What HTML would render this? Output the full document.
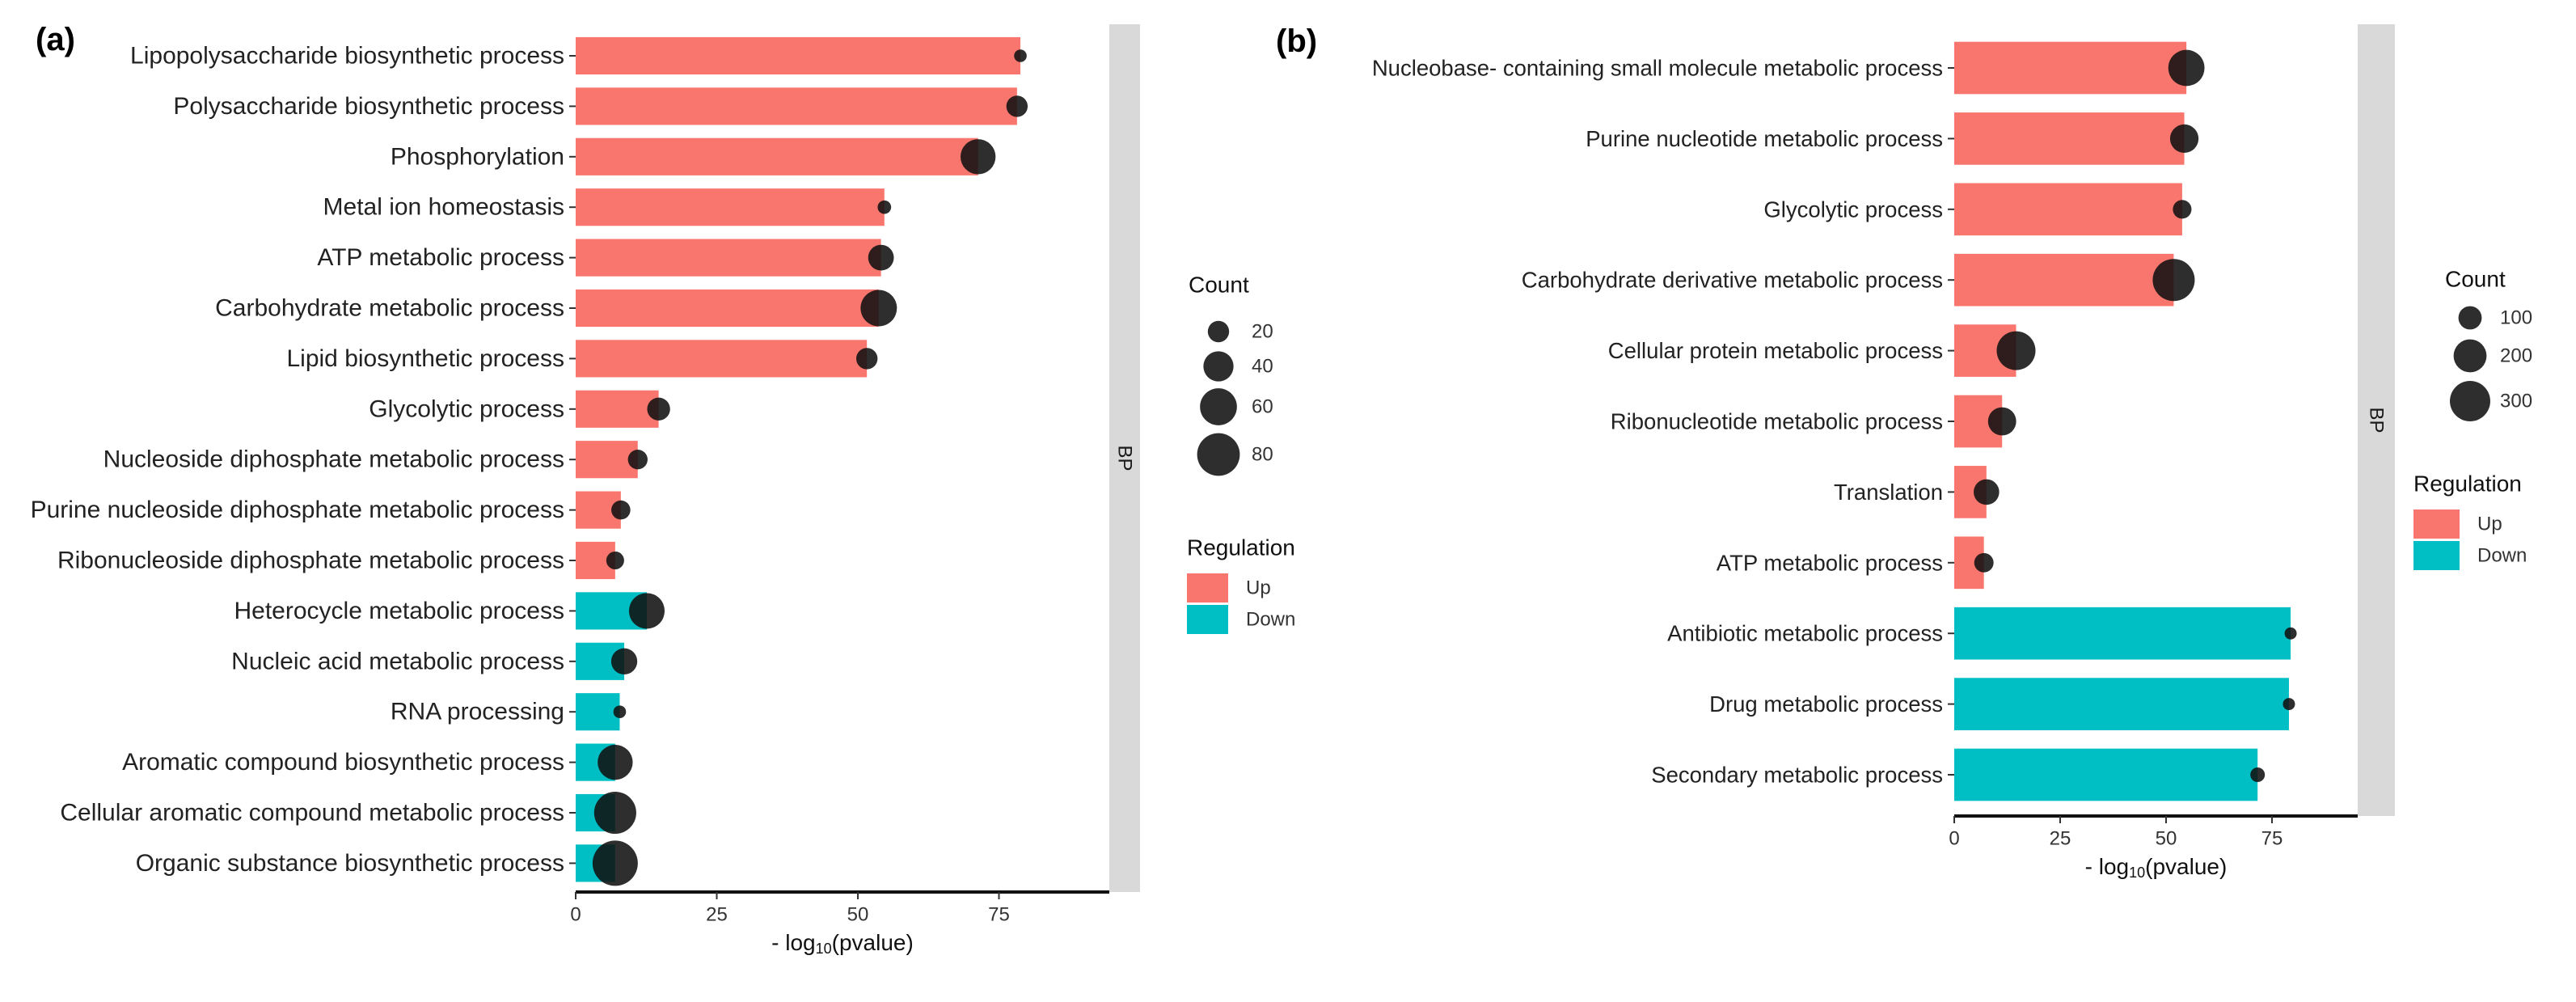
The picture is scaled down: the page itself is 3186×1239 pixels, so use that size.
<!DOCTYPE html>
<html><head><meta charset="utf-8"><title>GO enrichment BP</title>
<style>
html,body{margin:0;padding:0;background:#fff;}
svg{display:block;font-family:"Liberation Sans",Arial,sans-serif;}
</style></head>
<body>
<svg id="chart" width="3186" height="1239" viewBox="0 0 3186 1239" xmlns="http://www.w3.org/2000/svg">
<rect width="3186" height="1239" fill="#fff"/>
<text x="44" y="62" font-size="40" font-weight="bold">(a)</text>
<text x="1578" y="64" font-size="40" font-weight="bold">(b)</text>
<g id="pa"></g>
<g id="pb"></g>
</svg>
<script>
// Panel A data
const catsA = ["Lipopolysaccharide biosynthetic process","Polysaccharide biosynthetic process","Phosphorylation","Metal ion homeostasis","ATP metabolic process","Carbohydrate metabolic process","Lipid biosynthetic process","Glycolytic process","Nucleoside diphosphate metabolic process","Purine nucleoside diphosphate metabolic process","Ribonucleoside diphosphate metabolic process","Heterocycle metabolic process","Nucleic acid metabolic process","RNA processing","Aromatic compound biosynthetic process","Cellular aromatic compound metabolic process","Organic substance biosynthetic process"];
const valsA = [78.8,78.2,71.3,54.7,54.1,53.7,51.6,14.7,11,8,7,12.6,8.6,7.8,7,7,7];
const countsA = [7,20,54,8,29,58,20,23,17,16,14,56,30,7,54,78,90];
const regA = ["Up","Up","Up","Up","Up","Up","Up","Up","Up","Up","Up","Down","Down","Down","Down","Down","Down"];
const legendCountsA = [20,40,60,80];
// Panel B data
const catsB = ["Nucleobase- containing small molecule metabolic process","Purine nucleotide metabolic process","Glycolytic process","Carbohydrate derivative metabolic process","Cellular protein metabolic process","Ribonucleotide metabolic process","Translation","ATP metabolic process","Antibiotic metabolic process","Drug metabolic process","Secondary metabolic process"];
const valsB = [54.8,54.3,53.8,51.8,14.6,11.3,7.6,7,79.4,79,71.6];
const countsB = [241,149,64,325,277,146,120,69,27,27,39];
const regB = ["Up","Up","Up","Up","Up","Up","Up","Up","Down","Down","Down"];
const legendCountsB = [100,200,300];
const xTicks = [0,25,50,75];

const NS="http://www.w3.org/2000/svg";
const COL={Up:"#F8766D",Down:"#00BFC4"};
function mk(parent,tag,attrs,txt){const e=document.createElementNS(NS,tag);for(const k in attrs)e.setAttribute(k,attrs[k]);if(txt!==undefined)e.textContent=txt;parent.appendChild(e);return e;}

function panel(g,cfg){
  const {cats,vals,counts,reg,x0,unit,right,top0,step,axisY,stripX,stripW,stripTop,rfun,fs}=cfg;
  const sx=v=>x0+v*unit;
  const bh=step*0.74;
  const s=mk(g,"rect",{x:stripX,y:stripTop,width:stripW,height:axisY-stripTop,fill:"#D9D9D9"});
  
  
  const cy=(stripTop+axisY)/2, cx=stripX+stripW/2;
  const st=mk(g,"text",{x:cx,y:cy,"font-size":24,"text-anchor":"middle","dominant-baseline":"central",transform:`rotate(90 ${cx} ${cy})`,fill:"#1a1a1a"},"BP");
  
  
  cats.forEach((c,i)=>{
    const y=top0+i*step;
    const b=mk(g,"rect",{x:sx(0),y:y-bh/2,width:sx(vals[i])-sx(0),height:bh,fill:COL[reg[i]]});
    
    
    const p=mk(g,"circle",{cx:sx(vals[i]),cy:y,r:rfun(counts[i]),fill:"#111","fill-opacity":0.88});
    
    
    const t=mk(g,"text",{x:x0-14,y:y,"font-size":fs,"text-anchor":"end","dominant-baseline":"central",fill:"#222"},c);
    
    
    const tk=mk(g,"line",{x1:x0-8,x2:x0,y1:y,y2:y,stroke:"#333","stroke-width":2});
    
    
  });
  const ax=mk(g,"line",{x1:x0,x2:right,y1:axisY,y2:axisY,stroke:"#111","stroke-width":4});
  
  
  xTicks.forEach(v=>{
    const l=mk(g,"line",{x1:sx(v),x2:sx(v),y1:axisY,y2:axisY+9,stroke:"#333","stroke-width":2});
    
    
    const t=mk(g,"text",{x:sx(v),y:axisY+28,"font-size":24,"text-anchor":"middle","dominant-baseline":"central",fill:"#333"},String(v));
    
    
  });
  const tt=mk(g,"text",{x:(x0+right)/2,y:axisY+62,"font-size":28,"text-anchor":"middle","dominant-baseline":"central",fill:"#111"});
  
  
  mk(tt,"tspan",{},"- log");
  mk(tt,"tspan",{"font-size":18,dy:8},"10");
  mk(tt,"tspan",{dy:-8},"(pvalue)");
}
function legend(g,cfg){
  const {lc,rfun,cx,titleX,titleY,ys,labX,regX,regY,keyW,keyH}=cfg;
  const t=mk(g,"text",{x:titleX,y:titleY,"font-size":28,"dominant-baseline":"central",fill:"#111"},"Count");
  
  
  lc.forEach((c,i)=>{
    const k=mk(g,"circle",{cx:cx,cy:ys[i],r:rfun(c),fill:"#111","fill-opacity":0.88});
    
    
    const l=mk(g,"text",{x:labX,y:ys[i],"font-size":24,"dominant-baseline":"central",fill:"#333"},String(c));
    
    
  });
  const r=mk(g,"text",{x:regX,y:regY,"font-size":28,"dominant-baseline":"central",fill:"#111"},"Regulation");
  
  
  ["Up","Down"].forEach((k,i)=>{
    const y=regY+32+i*(keyH+3);
    const kr=mk(g,"rect",{x:regX,y:y,width:keyW,height:keyH,fill:COL[k]});
    
    
    const kl=mk(g,"text",{x:regX+keyW+22,y:y+keyH/2,"font-size":24,"dominant-baseline":"central",fill:"#333"},k);
    
    
  });
}
const rA=c=>2.95*Math.sqrt(c);
const rB=c=>Math.sqrt(2.08*c);
panel(document.getElementById("pa"),{cats:catsA,vals:valsA,counts:countsA,reg:regA,x0:712,unit:6.98,right:1372,top0:69,step:62.4,axisY:1103,stripX:1372,stripW:38,stripTop:30,rfun:rA,fs:30});
panel(document.getElementById("pb"),{cats:catsB,vals:valsB,counts:countsB,reg:regB,x0:2417,unit:5.24,right:2916,top0:84,step:87.4,axisY:1009,stripX:2916,stripW:46,stripTop:30,rfun:rB,fs:27.5});
legend(document.getElementById("pa"),{lc:legendCountsA,rfun:rA,cx:1507,titleX:1470,titleY:352,ys:[410,453,503,562],labX:1548,regX:1468,regY:677,keyW:51,keyH:36});
legend(document.getElementById("pb"),{lc:legendCountsB,rfun:rB,cx:3055,titleX:3024,titleY:345,ys:[393,440,496],labX:3092,regX:2985,regY:598,keyW:57,keyH:36});
</script>
</body></html>
